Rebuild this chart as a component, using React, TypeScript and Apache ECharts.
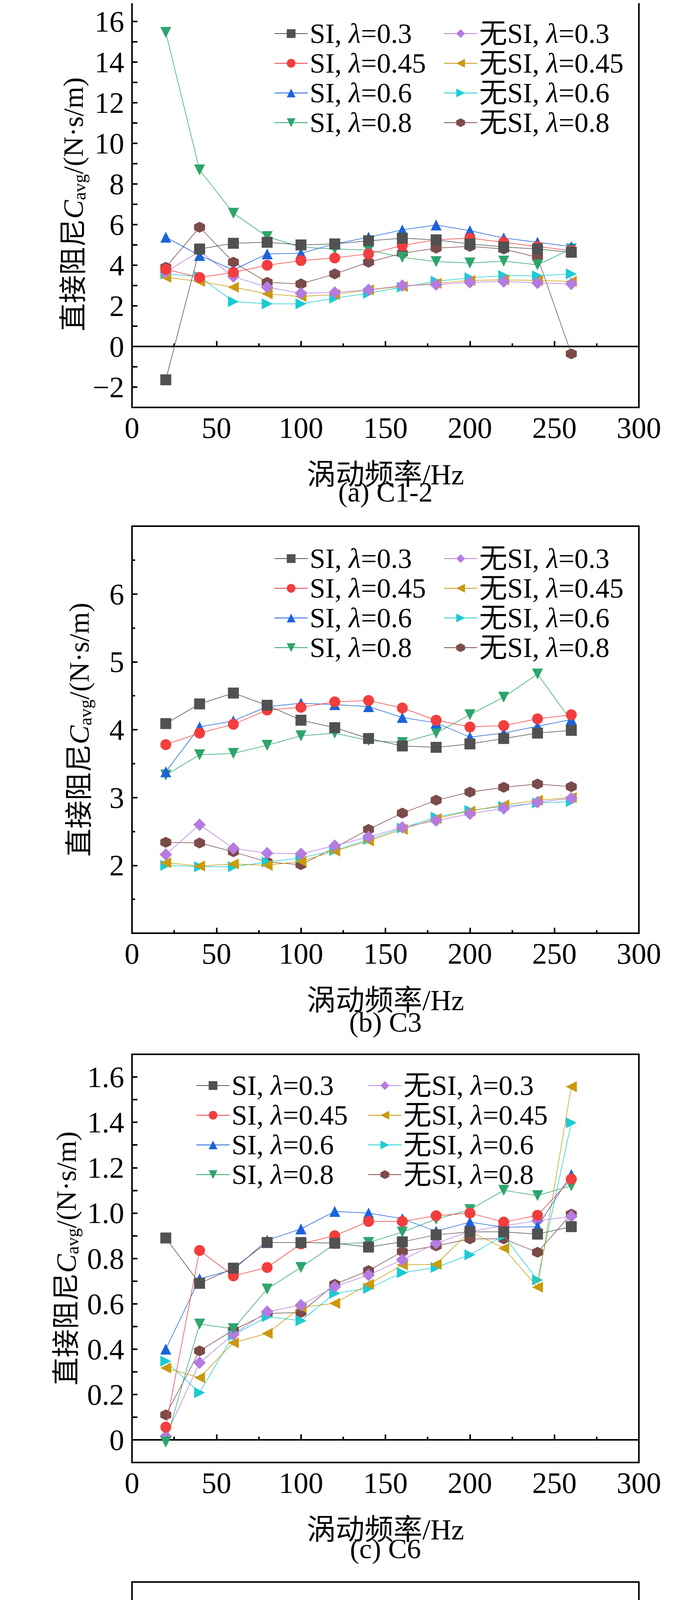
import React, { useEffect, useRef } from 'react';
import * as echarts from 'echarts';

const freqs = [20, 40, 60, 80, 100, 120, 140, 160, 180, 200, 220, 240, 260];

const seriesNames = ['SI, λ=0.3', 'SI, λ=0.45', 'SI, λ=0.6', 'SI, λ=0.8', '无SI, λ=0.3', '无SI, λ=0.45', '无SI, λ=0.6', '无SI, λ=0.8'];
const colors = ['#515151', '#f23e3e', '#1c63dc', '#2ea56c', '#b57be0', '#c99a0c', '#1ccbd3', '#7b4b4a'];
const hexagon = 'path://M0,-1 L0.866,-0.5 L0.866,0.5 L0,1 L-0.866,0.5 L-0.866,-0.5 Z';
const symbols = ['rect', 'circle', 'triangle', 'triangle', 'diamond', 'triangle', 'triangle', hexagon];
const symbolRotates = [0, 0, 0, 180, 0, 90, -90, 0];

// (a) C1-2
const c12 = [
  [-1.64, 4.8, 5.08, 5.13, 5.0, 5.05, 5.2, 5.33, 5.25, 5.05, 4.9, 4.8, 4.64],
  [3.8, 3.4, 3.65, 4.0, 4.23, 4.36, 4.56, 4.97, 5.26, 5.33, 5.13, 4.92, 4.72],
  [5.38, 4.48, 3.77, 4.56, 4.59, 5.05, 5.38, 5.74, 5.98, 5.7, 5.34, 5.13, 4.92],
  [15.46, 8.69, 6.56, 5.41, 4.89, 4.8, 4.75, 4.39, 4.18, 4.11, 4.2, 4.02, 4.8],
  [3.66, 4.69, 3.44, 2.92, 2.62, 2.66, 2.79, 3.0, 3.05, 3.16, 3.2, 3.13, 3.08],
  [3.41, 3.2, 2.92, 2.59, 2.46, 2.56, 2.79, 2.95, 3.11, 3.25, 3.28, 3.25, 3.2],
  [3.57, 3.44, 2.21, 2.1, 2.1, 2.38, 2.62, 2.92, 3.21, 3.38, 3.49, 3.48, 3.57],
  [3.9, 5.87, 4.15, 3.16, 3.08, 3.57, 4.15, 4.59, 4.84, 4.93, 4.8, 4.39, -0.36],
];

// (b) C3
const c3 = [
  [4.09, 4.38, 4.54, 4.36, 4.14, 4.03, 3.87, 3.76, 3.74, 3.79, 3.87, 3.95, 3.99],
  [3.78, 3.95, 4.08, 4.29, 4.33, 4.41, 4.43, 4.32, 4.14, 4.04, 4.06, 4.16, 4.22],
  [3.38, 4.04, 4.13, 4.34, 4.39, 4.37, 4.34, 4.18, 4.1, 3.89, 3.95, 4.05, 4.15],
  [3.33, 3.63, 3.65, 3.77, 3.91, 3.95, 3.84, 3.81, 3.95, 4.22, 4.48, 4.82, 4.13],
  [2.16, 2.6, 2.25, 2.18, 2.17, 2.29, 2.42, 2.56, 2.66, 2.76, 2.84, 2.93, 2.99],
  [2.04, 1.99, 2.02, 2.0, 2.06, 2.21, 2.36, 2.53, 2.69, 2.8, 2.89, 2.96, 3.0],
  [2.0, 1.98, 1.98, 2.05, 2.11, 2.22, 2.38, 2.55, 2.71, 2.81, 2.87, 2.92, 2.94],
  [2.34, 2.33, 2.2, 2.05, 2.01, 2.26, 2.53, 2.77, 2.96, 3.08, 3.15, 3.2, 3.16],
];

// (c) C6
const c6 = [
  [0.89, 0.69, 0.757, 0.87, 0.87, 0.867, 0.85, 0.873, 0.904, 0.917, 0.917, 0.907, 0.94],
  [0.056, 0.835, 0.723, 0.76, 0.864, 0.9, 0.963, 0.963, 0.988, 1.0, 0.96, 0.99, 1.15],
  [0.4, 0.71, 0.75, 0.88, 0.93, 1.007, 1.0, 0.975, 0.92, 0.96, 0.937, 0.94, 1.17],
  [-0.01, 0.51, 0.49, 0.665, 0.76, 0.863, 0.87, 0.916, 0.973, 1.015, 1.1, 1.077, 1.12],
  [0.016, 0.34, 0.465, 0.565, 0.594, 0.675, 0.727, 0.794, 0.867, 0.919, 0.944, 0.966, 0.985],
  [0.317, 0.274, 0.428, 0.469, 0.584, 0.602, 0.686, 0.771, 0.774, 0.919, 0.845, 0.673, 1.557],
  [0.347, 0.208, 0.462, 0.543, 0.525, 0.646, 0.668, 0.737, 0.76, 0.816, 0.9, 0.705, 1.398],
  [0.11, 0.392, 0.484, 0.557, 0.562, 0.686, 0.746, 0.83, 0.855, 0.886, 0.886, 0.827, 0.995],
];

// (d) C9
const c9 = [
  [-1.656, -0.844, -0.6, -0.59, -0.745, -0.72, -0.54, -0.46, -0.506, -0.47, -0.27, -0.02, 0.21],
  [-1.19, -0.88, -0.625, -0.42, -0.56, -0.35, -0.34, -0.365, -0.245, -0.285, -0.146, -0.06, -0.064],
  [-0.964, -0.884, -0.418, -0.386, -0.49, -0.258, -0.293, -0.365, -0.298, -0.343, -0.218, -0.104, -0.098],
  [-1.45, -0.884, -0.705, -0.63, -0.5, -0.445, -0.33, -0.293, -0.303, -0.266, -0.178, 0.1, -0.045],
  [-0.745, -0.676, -0.764, -0.705, -0.59, -0.383, -0.266, -0.245, -0.27, -0.293, -0.232, -0.027, 0.168],
  [-1.7, -0.884, -0.684, -0.612, -0.524, -0.458, -0.365, -0.333, -0.325, -0.365, -0.165, 0.194, -0.285],
  [-2.26, -0.543, -0.764, -0.49, -0.617, -0.47, -0.41, -0.4, -0.35, -0.32, -0.19, -0.005, 0.335],
  [-1.41, -0.703, -0.665, -0.676, -0.583, -0.56, -0.35, -0.405, -0.317, -0.317, -0.173, -0.067, -0.085],
];

const captions = ['(a) C1-2', '(b) C3', '(c) C6', '(d) C9'];

const SERIF = 'Liberation Serif';
const CJK = '"Liberation Serif", "Noto Sans CJK SC"';
const minus = (s: string) => s.replace('-', '−');

const panels = [
  {
    data: c12, top: 3, bottom: 1043, min: -3, max: 17, interval: 1,
    fmt: (v: number) => {
      const k = Math.round(v);
      if (k % 2 !== 0 || k < -2 || k > 16) return '';
      return minus(String(k));
    },
    nameGap: 97, legend: { left1: 697, left2: 1131, top: 45 }, caption: 1260,
  },
  {
    data: c3, top: 1347, bottom: 2389, min: 1, max: 7, interval: 1,
    fmt: (v: number) => (v === 1 || v === 7 ? '' : String(v)),
    nameGap: 97, legend: { left1: 697, left2: 1131, top: 1389 }, caption: 2617,
  },
  {
    data: c6, top: 2699, bottom: 3744, min: -0.1, max: 1.7, interval: 0.1,
    fmt: (v: number) => {
      const k = Math.round(v * 10);
      if (k < 0 || k > 16 || k % 2 !== 0) return '';
      return k === 0 ? '0' : (k / 10).toFixed(1);
    },
    nameGap: 130, legend: { left1: 497, left2: 937, top: 2738 }, caption: 3965,
  },
  {
    data: c9, top: 4050, bottom: 5093, min: -2.5, max: 0.75, interval: 0.25,
    fmt: (v: number) => {
      const k = Math.round(v * 4);
      if (k % 2 !== 0 || k > 2) return '';
      return k === 0 ? '0' : minus((k / 4).toFixed(1));
    },
    nameGap: 176, legend: { left1: 689, left2: 1140, top: 4774 }, caption: 5322,
  },
];

const App: React.FC = () => {
  const chartRef = useRef<HTMLDivElement>(null);

  useEffect(() => {
    if (!chartRef.current) return;
    const chart = echarts.init(chartRef.current, null, { renderer: 'svg' });

    const grid: any[] = [];
    const xAxis: any[] = [];
    const yAxis: any[] = [];
    const series: any[] = [];
    const legend: any[] = [];

    const legendText = {
      fontFamily: CJK,
      fontSize: 72,
      lineHeight: 58,
      color: '#000',
      rich: { i: { fontFamily: SERIF, fontStyle: 'italic', fontSize: 72, lineHeight: 58 } },
    };
    const tickStyle = { color: '#000', width: 4 };

    panels.forEach((p, pi) => {
      grid.push({
        left: 338, width: 1298, top: p.top, height: p.bottom - p.top,
        show: true, borderColor: '#000', borderWidth: 4, backgroundColor: 'transparent',
      });
      xAxis.push({
        type: 'value', gridIndex: pi, min: 0, max: 300, interval: 50,
        name: '涡动频率/Hz', nameLocation: 'middle', nameGap: 135,
        nameTextStyle: { fontFamily: CJK, fontSize: 74, color: '#000' },
        axisLine: { lineStyle: tickStyle },
        axisTick: { inside: true, length: 14, lineStyle: tickStyle },
        minorTick: { show: true, splitNumber: 2, length: 8, lineStyle: tickStyle },
        axisLabel: { fontFamily: SERIF, fontSize: 76, color: '#000', margin: 14 },
        splitLine: { show: false },
      });
      yAxis.push({
        type: 'value', gridIndex: pi, min: p.min, max: p.max, interval: p.interval,
        name: '直接阻尼{i|C}{sub|avg}/(N·s/m)', nameLocation: 'middle', nameGap: p.nameGap, nameRotate: 90,
        nameTextStyle: {
          fontFamily: CJK, fontSize: 72, color: '#000',
          rich: {
            i: { fontFamily: SERIF, fontStyle: 'italic', fontSize: 72 },
            sub: { fontFamily: SERIF, fontSize: 46, padding: [30, 0, 0, 0] },
          },
        },
        axisLine: { lineStyle: tickStyle },
        axisTick: { inside: true, length: 14, lineStyle: tickStyle },
        minorTick: pi === 1 ? { show: true, splitNumber: 2, length: 8, lineStyle: tickStyle } : { show: false },
        axisLabel: { fontFamily: SERIF, fontSize: 76, color: '#000', margin: 20, formatter: p.fmt, showMinLabel: true, showMaxLabel: true },
        splitLine: { show: false },
      });
      p.data.forEach((vals, si) => {
        series.push({
          type: 'line', name: seriesNames[si], xAxisIndex: pi, yAxisIndex: pi,
          data: freqs.map((f, k) => [f, vals[k]]),
          symbol: symbols[si], symbolRotate: symbolRotates[si], symbolSize: si === 4 ? 32 : 28,
          showAllSymbol: true,
          itemStyle: { color: colors[si] },
          lineStyle: { color: colors[si], width: 1.5 },
          z: 10 - si,
        });
      });
      [0, 1].forEach((col) => {
        legend.push({
          orient: 'vertical', left: col === 0 ? p.legend.left1 : p.legend.left2, top: p.legend.top,
          data: seriesNames.slice(col * 4, col * 4 + 4),
          itemWidth: 85, itemHeight: 28, itemGap: 4,
          formatter: (n: string) => n.replace('λ', '{i|λ}'),
          textStyle: legendText, selectedMode: false,
        });
      });
    });

    chart.setOption({
      animation: false,
      backgroundColor: '#fff',
      grid, xAxis, yAxis, series, legend,
      graphic: panels.map((p, pi) => ({
        type: 'text', x: 987, y: p.caption,
        style: { text: captions[pi], font: `72px ${CJK}`, fill: '#000', align: 'center', verticalAlign: 'middle' },
      })),
    });

    return () => {
      chart.dispose();
    };
  }, []);

  return <div ref={chartRef} style={{ margin: -8, width: 1772, height: 5358 }} />;
};

export default App;
